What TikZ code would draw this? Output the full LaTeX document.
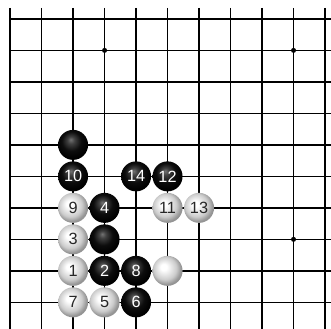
\documentclass[tikz,border=0pt]{standalone}
\usepackage{fontspec}
\setmainfont{Liberation Sans}
\pgfdeclareradialshading{wshade}{\pgfpoint{-7bp}{7bp}}{color(0bp)=(white); color(5bp)=(white); color(19bp)=(black!20); color(26bp)=(black!42); color(50bp)=(black!42)}
\pgfdeclareradialshading{bshade}{\pgfpoint{-4bp}{9bp}}{color(0bp)=(black!55); color(6bp)=(black!75); color(16bp)=(black!95); color(26bp)=(black); color(50bp)=(black)}
\begin{document}
\begin{tikzpicture}[x=8.5mm,y=8.5mm,
  stone/.style={circle,inner sep=0pt,minimum size=8.1mm,font=\fontsize{12.5}{12.5}\selectfont},
  bstone/.style={stone,shading=bshade,text=white},
  wstone/.style={stone,shading=wshade,text=black!85}]
\useasboundingbox (-0.32,0.6) rectangle (10.19,-9.84);
\fill[white] (-0.32,0.6) rectangle (10.19,-9.84);
\foreach \i in {1,...,10} \draw[line width=1pt](\i,0.35)--(\i,-9.84);
\foreach \j in {0,...,9} \draw[line width=1pt](0,-\j)--(10.19,-\j);
\draw[line width=1.9pt](0,0.35)--(0,-9.84);
\fill(3,-1) circle(.08);
\fill(9,-1) circle(.08);
\fill(9,-7) circle(.08);

\node[bstone](b1) at (2,-4){};
\node[bstone](m10) at (2,-5){10};
\node[bstone](m14) at (4,-5){14};
\node[bstone](m12) at (5,-5){12};
\node[wstone](m9) at (2,-6){9};
\node[bstone](m4) at (3,-6){4};
\node[wstone](m11) at (5,-6){11};
\node[wstone](m13) at (6,-6){13};
\node[wstone](m3) at (2,-7){3};
\node[bstone](b2) at (3,-7){};
\node[wstone](m1) at (2,-8){1};
\node[bstone](m2) at (3,-8){2};
\node[bstone](m8) at (4,-8){8};
\node[wstone](w1) at (5,-8){};
\node[wstone](m7) at (2,-9){7};
\node[wstone](m5) at (3,-9){5};
\node[bstone](m6) at (4,-9){6};
\end{tikzpicture}
\end{document}
